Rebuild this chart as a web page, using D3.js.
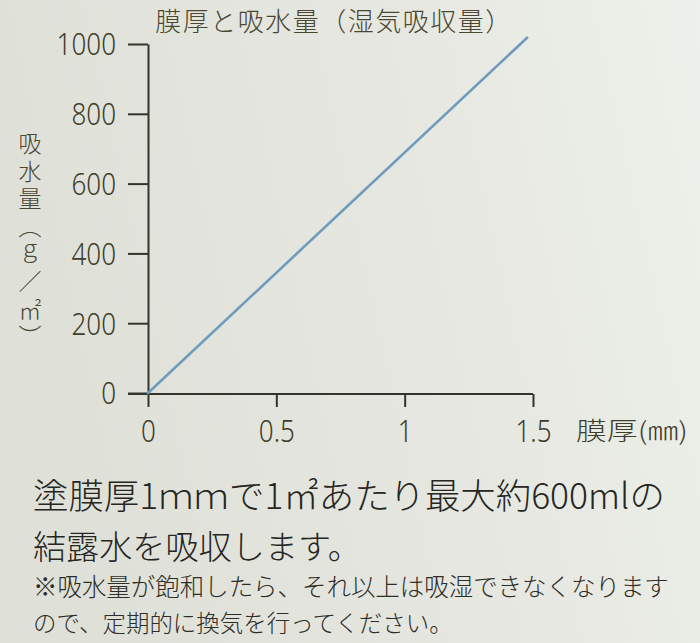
<!DOCTYPE html>
<html><head><meta charset="utf-8">
<script src="https://cdn.jsdelivr.net/npm/d3@7"></script>
<style>
html,body{margin:0;padding:0;}
body{width:700px;height:643px;overflow:hidden;}
</style></head>
<body>
<svg id="c" width="700" height="643"></svg>
<script>
// ---- data ----
const title = "膜厚と吸水量（湿気吸収量）";
const xLabel = "膜厚(㎜)";
const yLabel = "吸水量（ｇ／㎡）";
const thickness = [0, 1.477];      // mm
const absorption = [0, 1018];      // g/m2
const xTicks = [0, 0.5, 1, 1.5];
const xTickLabels = ["0", "0.5", "1", "1.5"];
const yTicks = [0, 200, 400, 600, 800, 1000];
const yTickLabels = ["0", "200", "400", "600", "800", "1000"];
const notes = [
  "塗膜厚1ｍｍで1㎡あたり最大約600mlの",
  "結露水を吸収します。",
  "※吸水量が飽和したら、それ以上は吸湿できなくなります",
  "ので、定期的に換気を行ってください。"
];

// ---- drawing ----
const svg = d3.select("#c");
const W = 700, H = 643;
const defs = svg.append("defs");
const g0 = defs.append("linearGradient").attr("id","bg").attr("x1","0").attr("y1","0.2").attr("x2","1").attr("y2","0");
g0.append("stop").attr("offset","0").attr("stop-color","#dfe1d9");
g0.append("stop").attr("offset","0.6").attr("stop-color","#e6e8e1");
g0.append("stop").attr("offset","1").attr("stop-color","#eef0eb");
svg.append("rect").attr("width",W).attr("height",H).attr("fill","url(#bg)");

const cjk = "'Noto Sans CJK JP','Noto Sans',sans-serif";
const num = "'Noto Sans','Noto Sans CJK JP',sans-serif";
const axisCol = "#35342c";
const numCol = "#403d2b";
const lw = 300;

const x = d3.scaleLinear().domain([0, 1.5]).range([148, 533]);
const y = d3.scaleLinear().domain([0, 1000]).range([393, 44]);

// condense numeric labels
function condense(sel, f) {
  sel.each(function() {
    const L = this.getComputedTextLength();
    if (L > 0) d3.select(this).attr("textLength", L * f).attr("lengthAdjust", "spacingAndGlyphs");
  });
}

// title
svg.append("text").attr("x", 334).attr("y", 31).attr("text-anchor","middle")
  .attr("font-family", cjk).attr("font-weight", lw).attr("font-size", 26)
  .attr("letter-spacing", 1.5).attr("fill", "#4a4632").text(title);

// y axis
const yAxis = d3.axisLeft(y).tickValues(yTicks).tickFormat((d,i)=>yTickLabels[i])
  .tickSize(20).tickSizeOuter(0).tickPadding(12);
const ya = svg.append("g").attr("transform","translate(148,0)").call(yAxis);
ya.select(".domain").attr("stroke", axisCol).attr("stroke-width", 2);
ya.selectAll(".tick line").attr("stroke", axisCol).attr("stroke-width", 2);
ya.selectAll(".tick text").attr("font-family", num).attr("font-weight", lw).attr("font-size", 31)
  .attr("fill", numCol).attr("dy","0.35em").call(condense, 0.84);

// x axis
const xAxis = d3.axisBottom(x).tickValues(xTicks).tickFormat((d,i)=>xTickLabels[i])
  .tickSize(13).tickSizeOuter(0).tickPadding(12);
const xa = svg.append("g").attr("transform","translate(0,394)").call(xAxis);
xa.select(".domain").attr("stroke", axisCol).attr("stroke-width", 2).attr("d", `M128,0H${x(1.5)}`);
xa.selectAll(".tick line").attr("stroke", axisCol).attr("stroke-width", 2);
xa.selectAll(".tick text").attr("font-family", num).attr("font-weight", lw).attr("font-size", 31)
  .attr("fill", numCol).attr("dy","0.75em").call(condense, 0.84);

// x label
svg.append("text").attr("x", 576).attr("y", 440)
  .attr("font-family", cjk).attr("font-weight", lw).attr("font-size", 25).attr("fill", numCol).text(xLabel)
  .attr("textLength", 112).attr("lengthAdjust", "spacingAndGlyphs");

// y label (vertical)
svg.append("text").attr("x", 30).attr("y", 132)
  .attr("writing-mode", "vertical-rl").style("writing-mode", "vertical-rl")
  .attr("font-family", cjk).attr("font-weight", lw).attr("font-size", 23)
  .attr("letter-spacing", 4.5).attr("fill", "#4a4632").text(yLabel);

// line
const pts = thickness.map((t,i)=>[t, absorption[i]]);
svg.append("path").datum(pts)
  .attr("d", d3.line().x(d=>x(d[0])).y(d=>y(d[1])))
  .attr("fill","none").attr("stroke","#709bbf").attr("stroke-width",2.6).attr("stroke-linecap","round");

// notes
const noteSpec = [
  {y: 509, w: 632, fs: 34, col: "#262622"},
  {y: 559, w: 328, fs: 34, col: "#262622"},
  {y: 596, w: 636, fs: 23, col: "#2e2d27"},
  {y: 632, w: 420, fs: 23, col: "#2e2d27"}
];
notes.forEach((t, i) => {
  const s = noteSpec[i];
  const el = svg.append("text").attr("x", 33).attr("y", s.y)
    .attr("font-family", cjk).attr("font-weight", lw).attr("font-size", s.fs).attr("fill", s.col).text(t);
  const len = el.node().getComputedTextLength();
  if (len > 0) el.attr("font-size", s.fs * s.w / len);
});
</script>
</body></html>
